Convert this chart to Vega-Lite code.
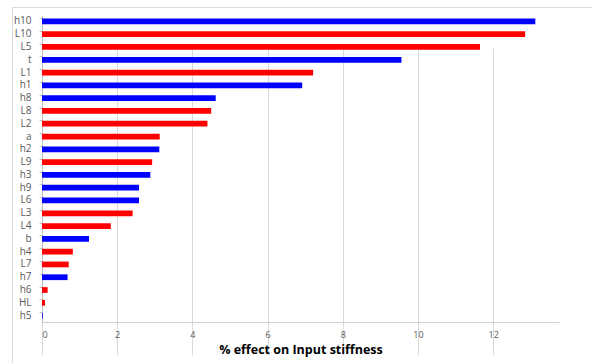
{
  "$schema": "https://vega.github.io/schema/vega-lite/v6.json",
  "autosize": {"type": "none"},
  "width": 580,
  "height": 356,
  "padding": {"left": 12, "top": 7, "right": 0, "bottom": 0},
  "background": "white",
  "title": {
    "text": "(a)",
    "font": "Open Sans",
    "fontSize": 16,
    "fontWeight": "normal",
    "color": "#000000",
    "anchor": "middle",
    "baseline": "alphabetic",
    "dx": -8,
    "offset": 3
  },
  "data": {
    "values": [
      {"param": "h10", "effect": 13.12, "sign": "positive"},
      {"param": "L10", "effect": 12.85, "sign": "negative"},
      {"param": "L5", "effect": 11.65, "sign": "negative"},
      {"param": "t", "effect": 9.56, "sign": "positive"},
      {"param": "L1", "effect": 7.21, "sign": "negative"},
      {"param": "h1", "effect": 6.92, "sign": "positive"},
      {"param": "h8", "effect": 4.62, "sign": "positive"},
      {"param": "L8", "effect": 4.5, "sign": "negative"},
      {"param": "L2", "effect": 4.4, "sign": "negative"},
      {"param": "a", "effect": 3.13, "sign": "negative"},
      {"param": "h2", "effect": 3.12, "sign": "positive"},
      {"param": "L9", "effect": 2.93, "sign": "negative"},
      {"param": "h3", "effect": 2.88, "sign": "positive"},
      {"param": "h9", "effect": 2.58, "sign": "positive"},
      {"param": "L6", "effect": 2.58, "sign": "positive"},
      {"param": "L3", "effect": 2.41, "sign": "negative"},
      {"param": "L4", "effect": 1.83, "sign": "negative"},
      {"param": "b", "effect": 1.25, "sign": "positive"},
      {"param": "h4", "effect": 0.82, "sign": "negative"},
      {"param": "L7", "effect": 0.71, "sign": "negative"},
      {"param": "h7", "effect": 0.68, "sign": "positive"},
      {"param": "h6", "effect": 0.15, "sign": "negative"},
      {"param": "HL", "effect": 0.08, "sign": "negative"},
      {"param": "h5", "effect": 0.02, "sign": "positive"}
    ]
  },
  "mark": {"type": "bar", "cornerRadius": 0},
  "encoding": {
    "y": {
      "field": "param",
      "type": "nominal",
      "sort": null,
      "scale": {"range": [8, 315], "paddingInner": 0.55, "paddingOuter": 0.275},
      "axis": {
        "title": null,
        "offset": -30,
        "labelFont": "Open Sans",
        "labelFontSize": 10,
        "labelColor": "#595959",
        "labelPadding": 8,
        "domainColor": "#bfbfbf",
        "tickColor": "#bfbfbf",
        "tickSize": 3,
        "bandPosition": 0,
        "grid": false
      }
    },
    "x": {
      "field": "effect",
      "type": "quantitative",
      "scale": {"domain": [0, 13.75], "nice": false, "range": [30, 547]},
      "axis": {
        "title": "% effect on Input stiffness",
        "offset": -41,
        "titleFont": "Open Sans",
        "titleFontSize": 12.5,
        "titleFontWeight": "bold",
        "titleColor": "#000000",
        "titlePadding": 4,
        "values": [0, 2, 4, 6, 8, 10, 12],
        "format": "d",
        "labelFont": "Open Sans",
        "labelFontSize": 9,
        "labelColor": "#595959",
        "labelPadding": 8,
        "domainColor": "#d0d0d0",
        "ticks": false,
        "grid": true,
        "gridColor": "#d9d9d9"
      }
    },
    "color": {
      "field": "sign",
      "type": "nominal",
      "scale": {"domain": ["positive", "negative"], "range": ["#0000ff", "#ff0000"]},
      "legend": null
    }
  },
  "config": {"view": {"stroke": "#d9d9d9", "strokeWidth": 1}}
}
